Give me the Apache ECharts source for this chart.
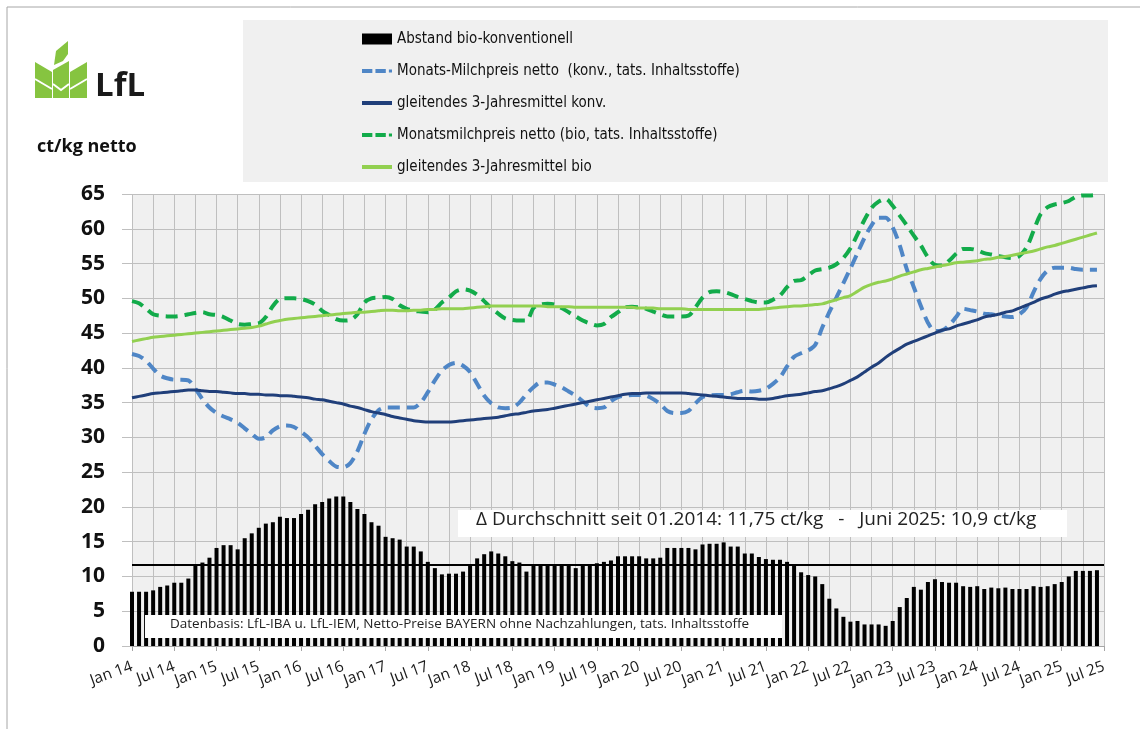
<!DOCTYPE html>
<html>
<head>
<meta charset="utf-8">
<script src="https://cdn.jsdelivr.net/npm/echarts@6/dist/echarts.min.js"></script>
<style>
html, body { margin: 0; padding: 0; background: #fff; }
#main { width: 1140px; height: 729px; }
</style>
</head>
<body>
<div id="main"></div>
<script>
// Monatswerte Jan 14 .. Jun 25, Achse bis Jul 25
var monthNames = ['Jan', 'Feb', 'Mrz', 'Apr', 'Mai', 'Jun', 'Jul', 'Aug', 'Sep', 'Okt', 'Nov', 'Dez'];
var years = [14, 15, 16, 17, 18, 19, 20, 21, 22, 23, 24, 25];
var lastMonth = 'Jul 25';

var months = [];
years.forEach(function (y) {
    monthNames.forEach(function (m) {
        months.push(m + ' ' + y);
    });
});
months = months.slice(0, months.indexOf(lastMonth) + 1);

// Abstand bio-konventionell (ct/kg)
var abstand = [
    7.8, 7.8, 7.8, 8.0, 8.5, 8.7, 9.1, 9.1, 9.7, 11.6, 12.0, 12.7,
    14.1, 14.5, 14.5, 13.9, 15.5, 16.2, 17.0, 17.6, 17.8, 18.6, 18.4, 18.4,
    19.0, 19.6, 20.4, 20.7, 21.2, 21.5, 21.5, 20.7, 19.7, 19.0, 17.8, 17.3,
    15.7, 15.5, 15.3, 14.3, 14.3, 13.6, 12.1, 11.2, 10.3, 10.4, 10.4, 10.7,
    11.7, 12.6, 13.2, 13.6, 13.3, 12.9, 12.2, 12.0, 10.7, 11.7, 11.7, 11.7,
    11.7, 11.7, 11.7, 11.2, 11.7, 11.7, 11.9, 12.1, 12.3, 12.9, 12.9, 12.9,
    12.9, 12.6, 12.6, 12.7, 14.1, 14.1, 14.1, 14.1, 13.9, 14.6, 14.7, 14.7,
    14.9, 14.3, 14.3, 13.3, 13.3, 12.8, 12.5, 12.4, 12.4, 12.1, 11.6, 10.6,
    10.2, 10.0, 8.9, 6.8, 5.4, 4.2, 3.5, 3.6, 3.1, 3.1, 3.1, 2.9,
    3.6, 5.6, 6.9, 8.5, 8.1, 9.2, 9.6, 9.2, 9.1, 9.1, 8.6, 8.5,
    8.6, 8.2, 8.4, 8.3, 8.4, 8.2, 8.2, 8.2, 8.6, 8.5, 8.6, 8.9,
    9.2, 10.0, 10.8, 10.8, 10.8, 10.9
];

// Monats-Milchpreis netto konventionell
var konvMonat = [
    42.0, 41.7, 41.0, 39.9, 38.9, 38.5, 38.3, 38.3, 38.2, 37.0, 35.5, 34.3,
    33.5, 33.0, 32.6, 32.1, 31.3, 30.5, 29.8, 30.0, 31.0, 31.6, 31.7, 31.5,
    30.8, 30.0, 28.8, 27.6, 26.6, 25.8, 25.7, 26.3, 28.0, 30.5, 32.6, 33.9,
    34.3, 34.3, 34.3, 34.3, 34.3, 35.0, 36.5, 38.2, 39.6, 40.4, 40.7, 40.3,
    39.4, 37.7, 36.0, 34.9, 34.3, 34.2, 34.3, 35.0, 36.2, 37.2, 37.9, 37.9,
    37.6, 37.2, 36.6, 36.0, 35.2, 34.4, 34.2, 34.3, 35.2, 35.8, 36.0, 36.1,
    36.1, 36.0, 35.5, 34.8, 33.8, 33.5, 33.5, 33.8, 34.9, 35.8, 36.0, 36.1,
    36.1, 36.2, 36.5, 36.7, 36.6, 36.7, 37.0, 37.7, 38.6, 40.2, 41.6, 42.1,
    42.5, 43.3, 45.8, 48.0, 50.1, 52.2, 54.3, 56.5, 58.7, 60.5, 61.6, 61.6,
    60.2, 57.6, 54.2, 51.6, 48.9, 46.5, 45.3, 45.4, 46.1, 47.3, 48.5, 48.3,
    48.1, 47.8, 47.7, 47.5, 47.4, 47.3, 47.7, 48.7, 50.9, 52.8, 54.0, 54.4,
    54.4, 54.4, 54.2, 54.1, 54.1, 54.1
];

// gleitendes 3-Jahresmittel konventionell
var konvMittel = [
    35.7, 35.9, 36.1, 36.3, 36.4, 36.5, 36.6, 36.7, 36.8, 36.8, 36.7, 36.6,
    36.6, 36.5, 36.4, 36.3, 36.3, 36.2, 36.2, 36.1, 36.1, 36.0, 36.0, 35.9,
    35.8, 35.7, 35.5, 35.4, 35.2, 35.0, 34.8, 34.5, 34.3, 34.0, 33.7, 33.5,
    33.3, 33.0, 32.8, 32.6, 32.4, 32.3, 32.2, 32.2, 32.2, 32.2, 32.3, 32.4,
    32.5, 32.6, 32.7, 32.8, 32.9, 33.1, 33.3, 33.4, 33.6, 33.8, 33.9, 34.0,
    34.2, 34.4, 34.6, 34.8, 35.0, 35.2, 35.4, 35.6, 35.8, 36.0, 36.2, 36.3,
    36.3, 36.4, 36.4, 36.4, 36.4, 36.4, 36.4, 36.3, 36.2, 36.1, 36.0, 35.9,
    35.8, 35.7, 35.6, 35.6, 35.6, 35.5, 35.5, 35.6, 35.8, 36.0, 36.1, 36.2,
    36.4, 36.6, 36.7, 37.0, 37.3, 37.7, 38.2, 38.7, 39.4, 40.1, 40.7, 41.5,
    42.2, 42.8, 43.4, 43.8, 44.2, 44.6, 45.0, 45.4, 45.6, 46.0, 46.3, 46.6,
    46.9, 47.3, 47.5, 47.7, 48.0, 48.2, 48.6, 49.0, 49.4, 49.9, 50.2, 50.6,
    50.9, 51.1, 51.3, 51.5, 51.7, 51.8
];

// Monatsmilchpreis netto bio
var bioMonat = [
    49.6, 49.3, 48.5, 47.7, 47.5, 47.4, 47.4, 47.5, 47.7, 47.9, 48.0, 47.7,
    47.6, 47.3, 46.8, 46.3, 46.2, 46.3, 46.4, 47.3, 48.9, 49.9, 50.0, 50.0,
    49.9, 49.6, 49.1, 48.2, 47.6, 47.0, 46.8, 46.9, 47.7, 49.4, 50.0, 50.1,
    50.2, 49.9, 49.0, 48.5, 48.2, 48.1, 48.0, 48.4, 49.4, 50.1, 51.0, 51.3,
    51.1, 50.5, 49.6, 48.6, 47.8, 47.1, 46.9, 46.8, 46.8, 48.6, 49.1, 49.2,
    49.1, 48.6, 48.0, 47.4, 46.8, 46.4, 46.1, 46.3, 47.3, 48.0, 48.7, 48.8,
    48.7, 48.5, 48.1, 47.7, 47.4, 47.4, 47.4, 47.5, 48.7, 50.1, 50.9, 51.0,
    50.9, 50.6, 50.2, 49.9, 49.6, 49.4, 49.4, 49.8, 50.4, 51.6, 52.5, 52.6,
    53.3, 54.0, 54.2, 54.4, 54.9, 55.8, 57.2, 59.2, 61.3, 63.0, 63.9, 64.3,
    63.3, 61.9, 60.5, 59.0, 57.6, 55.9, 54.8, 54.7, 55.4, 56.4, 57.1, 57.1,
    56.9, 56.5, 56.3, 56.1, 55.9, 55.8, 56.1, 57.3, 59.7, 62.1, 63.1, 63.5,
    63.7, 64.0, 64.6, 64.8, 64.8, 64.9
];

// gleitendes 3-Jahresmittel bio
var bioMittel = [
    43.8, 44.0, 44.2, 44.4, 44.5, 44.6, 44.7, 44.8, 44.9, 45.0, 45.1, 45.2,
    45.3, 45.4, 45.5, 45.6, 45.7, 45.8, 46.0, 46.3, 46.6, 46.8, 47.0, 47.1,
    47.2, 47.3, 47.4, 47.5, 47.6, 47.7, 47.8, 47.9, 48.0, 48.0, 48.1, 48.2,
    48.3, 48.3, 48.2, 48.2, 48.3, 48.3, 48.4, 48.4, 48.5, 48.5, 48.5, 48.5,
    48.6, 48.7, 48.8, 48.9, 48.9, 48.9, 48.9, 48.9, 48.9, 48.9, 48.9, 48.8,
    48.8, 48.8, 48.8, 48.7, 48.7, 48.7, 48.7, 48.7, 48.7, 48.7, 48.7, 48.7,
    48.6, 48.6, 48.6, 48.5, 48.5, 48.5, 48.5, 48.4, 48.4, 48.4, 48.4, 48.4,
    48.4, 48.4, 48.4, 48.4, 48.4, 48.4, 48.5, 48.6, 48.7, 48.8, 48.9, 48.9,
    49.0, 49.1, 49.2, 49.5, 49.8, 50.1, 50.4, 51.0, 51.6, 52.0, 52.3, 52.5,
    52.8, 53.2, 53.5, 53.8, 54.1, 54.3, 54.5, 54.7, 54.9, 55.1, 55.2, 55.3,
    55.4, 55.6, 55.7, 55.9, 56.0, 56.2, 56.4, 56.6, 56.8, 57.1, 57.4, 57.6,
    57.9, 58.2, 58.5, 58.8, 59.1, 59.4
];

var avgAbstand = 11.75;
var yTicks = { min: 0, max: 65, step: 5 };

var names = [
    'Abstand bio-konventionell',
    'Monats-Milchpreis netto  (konv., tats. Inhaltsstoffe)',
    'gleitendes 3-Jahresmittel konv.',
    'Monatsmilchpreis netto (bio, tats. Inhaltsstoffe)',
    'gleitendes 3-Jahresmittel bio'
];

var baseFont = '"Open Sans", Lato, sans-serif';
var narrowFont = '"Liberation Sans Narrow", "DejaVu Sans Condensed", sans-serif';
var gridColor = '#bfbfbf';
var leafGreen = '#86c440';

// Legenden-Symbole: gestrichelt bzw. durchgezogen
var dashIcon = 'path://M0,0h10v4h-10z M13,0h10v4h-10z M26,0.5h3v3h-3z';
var lineIcon = 'path://M0,0h30v4h-30z';

var myChart = echarts.init(document.getElementById('main'), null, { renderer: 'canvas' });

var option = {
    backgroundColor: '#ffffff',
    animation: false,
    grid: {
        left: 132, right: 36, top: 194, bottom: 83,
        show: true, backgroundColor: '#f0f0f0', borderWidth: 0,
        containLabel: false, outerBoundsMode: 'none'
    },
    legend: {
        orient: 'vertical',
        left: 362, top: 29,
        padding: 0,
        itemWidth: 30, itemHeight: 11, itemGap: 12,
        data: [
            { name: names[0], icon: 'rect' },
            { name: names[1], icon: dashIcon },
            { name: names[2], icon: lineIcon },
            { name: names[3], icon: dashIcon },
            { name: names[4], icon: lineIcon }
        ],
        textStyle: { fontFamily: narrowFont, fontSize: 15, color: '#111', lineHeight: 20 }
    },
    xAxis: {
        type: 'category',
        data: months,
        boundaryGap: false,
        axisLine: { show: true, lineStyle: { color: '#a6a6a6', width: 1 } },
        axisTick: { show: true, interval: 5, length: 5, lineStyle: { color: '#a6a6a6' } },
        axisLabel: {
            interval: 5, rotate: 20, margin: 20,
            fontFamily: baseFont, fontSize: 15.5, color: '#1a1a1a'
        },
        splitLine: {
            show: true,
            interval: function (index) { return index % 3 === 0; },
            lineStyle: { color: gridColor, width: 1 }
        }
    },
    yAxis: {
        type: 'value',
        min: yTicks.min, max: yTicks.max, interval: yTicks.step,
        axisLine: { show: false },
        axisTick: { show: true, length: 10, lineStyle: { color: gridColor } },
        axisLabel: {
            margin: 27, fontFamily: baseFont, fontSize: 21, fontWeight: 'bold', color: '#111'
        },
        splitLine: { show: true, lineStyle: { color: gridColor, width: 1 } }
    },
    series: [
        {
            name: names[0], type: 'bar', data: abstand,
            barWidth: 4, clip: false,
            itemStyle: { color: '#000' },
            markLine: {
                silent: true, symbol: 'none', label: { show: false },
                lineStyle: { color: '#000', width: 2, type: 'solid' },
                data: [{ yAxis: avgAbstand }]
            }
        },
        {
            name: names[1], type: 'line', data: konvMonat,
            symbol: 'none', smooth: 0.3,
            lineStyle: { color: '#4f86c6', width: 4, type: [12, 7] },
            itemStyle: { color: '#4f86c6' }
        },
        {
            name: names[2], type: 'line', data: konvMittel,
            symbol: 'none', smooth: 0.3,
            lineStyle: { color: '#203f7a', width: 3 },
            itemStyle: { color: '#203f7a' }
        },
        {
            name: names[3], type: 'line', data: bioMonat,
            symbol: 'none', smooth: 0.3,
            lineStyle: { color: '#12ab4a', width: 4, type: [12, 7] },
            itemStyle: { color: '#12ab4a' }
        },
        {
            name: names[4], type: 'line', data: bioMittel,
            symbol: 'none', smooth: 0.3,
            lineStyle: { color: '#92d050', width: 3 },
            itemStyle: { color: '#92d050' }
        }
    ],
    graphic: [
        // Rahmen (rechts/unten ausserhalb des Bildes)
        { type: 'rect', z: 0, shape: { x: 7, y: 7, width: 1140, height: 729 },
          style: { fill: 'none', stroke: '#a6a6a6', lineWidth: 1 } },
        // Legendenhintergrund
        { type: 'rect', z: 0, shape: { x: 243, y: 20, width: 865, height: 162 },
          style: { fill: '#f0f0f0' } },
        // LfL-Logo
        { type: 'polygon', z: 10, shape: { points: [[35, 62], [52, 72], [52, 98], [35, 98]] }, style: { fill: leafGreen } },
        { type: 'polygon', z: 10, shape: { points: [[53, 70], [69, 61], [69, 98], [53, 98]] }, style: { fill: leafGreen } },
        { type: 'polygon', z: 10, shape: { points: [[54, 65], [56, 51], [68, 41], [68, 54], [63, 61]] }, style: { fill: leafGreen } },
        { type: 'polygon', z: 10, shape: { points: [[70, 72], [87, 62], [87, 98], [70, 98]] }, style: { fill: leafGreen } },
        { type: 'polyline', z: 11, shape: { points: [[35, 79], [52, 89]] }, style: { stroke: '#fff', lineWidth: 2 } },
        { type: 'polyline', z: 11, shape: { points: [[53, 84], [61, 90], [69, 84]] }, style: { stroke: '#fff', lineWidth: 2 } },
        { type: 'polyline', z: 11, shape: { points: [[70, 89], [87, 79]] }, style: { stroke: '#fff', lineWidth: 2 } },
        { type: 'text', z: 10, style: { text: 'LfL', x: 95, y: 70, font: 'bold 33px ' + baseFont, fill: '#1a1a1a' } },
        // Achsentitel
        { type: 'text', z: 10, style: { text: 'ct/kg netto', x: 37, y: 138, font: 'bold 18px ' + baseFont, fill: '#111' } },
        // Durchschnittskasten
        { type: 'rect', z: 100, shape: { x: 458, y: 510, width: 609, height: 27 }, style: { fill: '#fff' } },
        { type: 'text', z: 101, style: {
            text: '\u0394 Durchschnitt seit 01.2014: 11,75 ct/kg   -   Juni 2025: 10,9 ct/kg',
            x: 476, y: 510, font: '19px ' + baseFont, fill: '#222' } },
        // Datenbasis
        { type: 'rect', z: 100, shape: { x: 145, y: 615, width: 637, height: 23 }, style: { fill: '#fff' } },
        { type: 'text', z: 101, style: {
            text: 'Datenbasis: LfL-IBA u. LfL-IEM, Netto-Preise BAYERN ohne Nachzahlungen, tats. Inhaltsstoffe',
            x: 170, y: 617, font: '13.5px ' + baseFont, fill: '#222' } }
    ]
};

myChart.setOption(option, true);
</script>
</body>
</html>
